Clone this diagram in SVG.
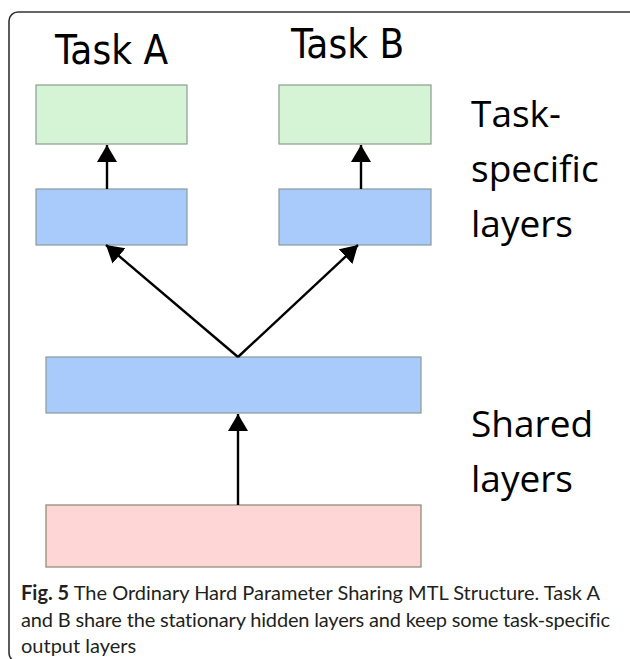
<svg xmlns="http://www.w3.org/2000/svg" width="630" height="659" viewBox="0 0 630 659">
  <style>
    .frame { fill: none; stroke: #333; stroke-width: 1.6; }
    .out { fill: #d5f4d5; stroke: #8c9c8c; stroke-width: 1.2; }
    .hid { fill: #a9cbfc; stroke: #8a9a9c; stroke-width: 1.2; }
    .inp { fill: #ffd6d6; stroke: #8c8470; stroke-width: 1.2; }
    .edge { stroke: #000; stroke-width: 2.4; fill: none; marker-end: url(#head); }
    .task { font-family: "DejaVu Sans Condensed", "DejaVu Sans", sans-serif; font-size: 40px; fill: #000; }
    .side { font-family: "Open Sans", "Noto Sans", sans-serif; font-size: 37px; fill: #000; }
    .cap { font-family: Lato, "Open Sans", sans-serif; font-size: 20px; fill: #231f20; font-variant-ligatures: none; }
    .cap tspan.b { font-weight: bold; }
  </style>
  <defs>
    <marker id="head" markerUnits="userSpaceOnUse" markerWidth="20" markerHeight="22" refX="17" refY="10" orient="auto">
      <path d="M0,0 L17,10 L0,20 Z" fill="#000"/>
    </marker>
  </defs>

  <rect class="frame" x="9" y="12" width="630" height="650" rx="9" ry="9"/>

  <g id="label-task-a"><text class="task" x="55" y="64">Task A</text></g>
  <g id="label-task-b"><text class="task" x="291" y="58">Task B</text></g>

  <g id="out-a"><rect class="out" x="36" y="85" width="151" height="59"/></g>
  <g id="out-b"><rect class="out" x="279" y="85" width="152" height="59"/></g>
  <g id="hid-a"><rect class="hid" x="36" y="189" width="151" height="56"/></g>
  <g id="hid-b"><rect class="hid" x="279" y="189" width="152" height="56"/></g>
  <g id="shared"><rect class="hid" x="46" y="357" width="375" height="56"/></g>
  <g id="input"><rect class="inp" x="46" y="505" width="375" height="62"/></g>

  <g id="connectors">
    <line class="edge" x1="107" y1="189" x2="107" y2="145"/>
    <line class="edge" x1="361" y1="189" x2="361" y2="145"/>
    <line class="edge" x1="238" y1="357" x2="106" y2="245"/>
    <line class="edge" x1="238" y1="357" x2="358" y2="245"/>
    <line class="edge" x1="238" y1="505" x2="238" y2="414"/>
  </g>

  <g id="label-task-specific">
    <text class="side" x="471" y="127">Task-</text>
    <text class="side" x="471" y="182">specific</text>
    <text class="side" x="471" y="237">layers</text>
  </g>
  <g id="label-shared">
    <text class="side" x="471" y="437">Shared</text>
    <text class="side" x="471" y="492">layers</text>
  </g>

  <g id="caption">
    <text class="cap" x="21" y="600" textLength="579" lengthAdjust="spacing"><tspan class="b">Fig. 5</tspan> The Ordinary Hard Parameter Sharing MTL Structure. Task A</text>
    <text class="cap" x="21" y="627" textLength="589" lengthAdjust="spacing">and B share the stationary hidden layers and keep some task-specific</text>
    <text class="cap" x="21" y="653">output layers</text>
  </g>
</svg>
